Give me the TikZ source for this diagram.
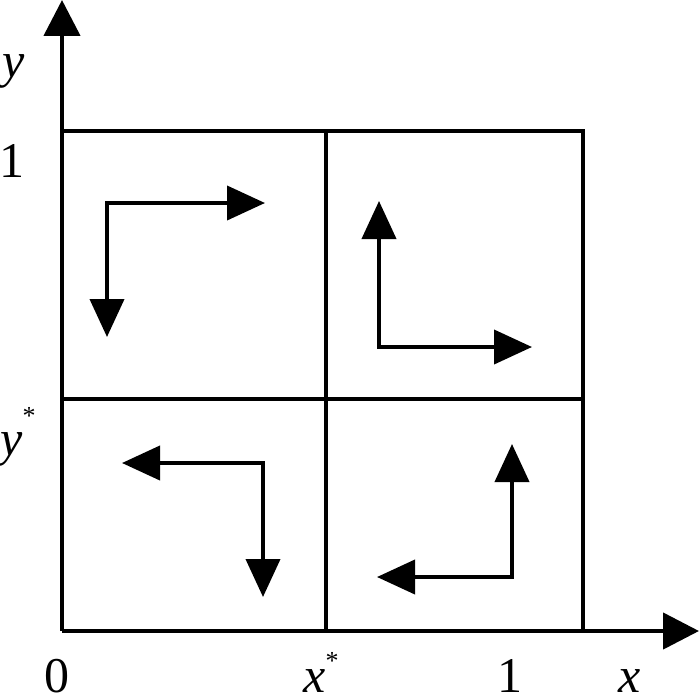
\documentclass[tikz,border=0pt]{standalone}
\usepackage{fontspec}
\setmainfont{Liberation Serif}
\usetikzlibrary{arrows.meta}
\tikzset{
  axis/.style={line width=4.5pt, -{Triangle[length=36pt,width=36pt]}},
  gridline/.style={line width=3.2pt, line cap=rect},
  flow/.style={line width=4pt, line join=miter, {Triangle[length=38pt,width=34pt]}-{Triangle[length=38pt,width=34pt]}},
  lbl/.style={inner sep=0pt, anchor=base, font=\fontsize{50}{50}\selectfont},
}
\begin{document}
\begin{tikzpicture}[x=1pt,y=-1pt]
\useasboundingbox (0,0) rectangle (700,698);
% axes
\coordinate (O) at (62,631);
\coordinate (Ytip) at (62,0);
\coordinate (Xtip) at (699,631);
% box corners
\coordinate (TL) at (62,131);
\coordinate (TR) at (583,131);
\coordinate (BR) at (583,631);
\coordinate (MT) at (326,131);
\coordinate (MB) at (326,631);
\coordinate (ML) at (62,399);
\coordinate (MR) at (583,399);
\draw[gridline] (TL) -- (TR) -- (BR);
\draw[gridline] (MT) -- (MB);
\draw[gridline] (ML) -- (MR);
\draw[axis] (O) -- (Ytip);
\draw[axis] (O) -- (Xtip);
% flow arrows
\coordinate (a1) at (107,337); \coordinate (c1) at (107,203); \coordinate (b1) at (265,203);
\draw[flow] (a1) -- (c1) -- (b1);
\coordinate (a2) at (379,201); \coordinate (c2) at (379,347); \coordinate (b2) at (532,347);
\draw[flow] (a2) -- (c2) -- (b2);
\coordinate (a3) at (122,463); \coordinate (c3) at (263,463); \coordinate (b3) at (263,597);
\draw[flow] (a3) -- (c3) -- (b3);
\coordinate (a4) at (512,444); \coordinate (c4) at (512,577); \coordinate (b4) at (377,577);
\draw[flow] (a4) -- (c4) -- (b4);
% labels
\node[lbl] (ly) at (14,78) {\textit{y}};
\node[lbl] (l1y) at (12,177) {1};
\node[lbl] (lys) at (18,455) {\textit{y}\raisebox{0.62em}{\fontsize{26}{26}\selectfont *}};
\node[lbl] (l0) at (57,692) {0};
\node[lbl] (lxs) at (321,692) {\textit{x}\raisebox{0.45em}{\fontsize{26}{26}\selectfont *}};
\node[lbl] (l1x) at (510,692) {1};
\node[lbl] (lx) at (630,692) {\textit{x}};
\end{tikzpicture}
\end{document}
